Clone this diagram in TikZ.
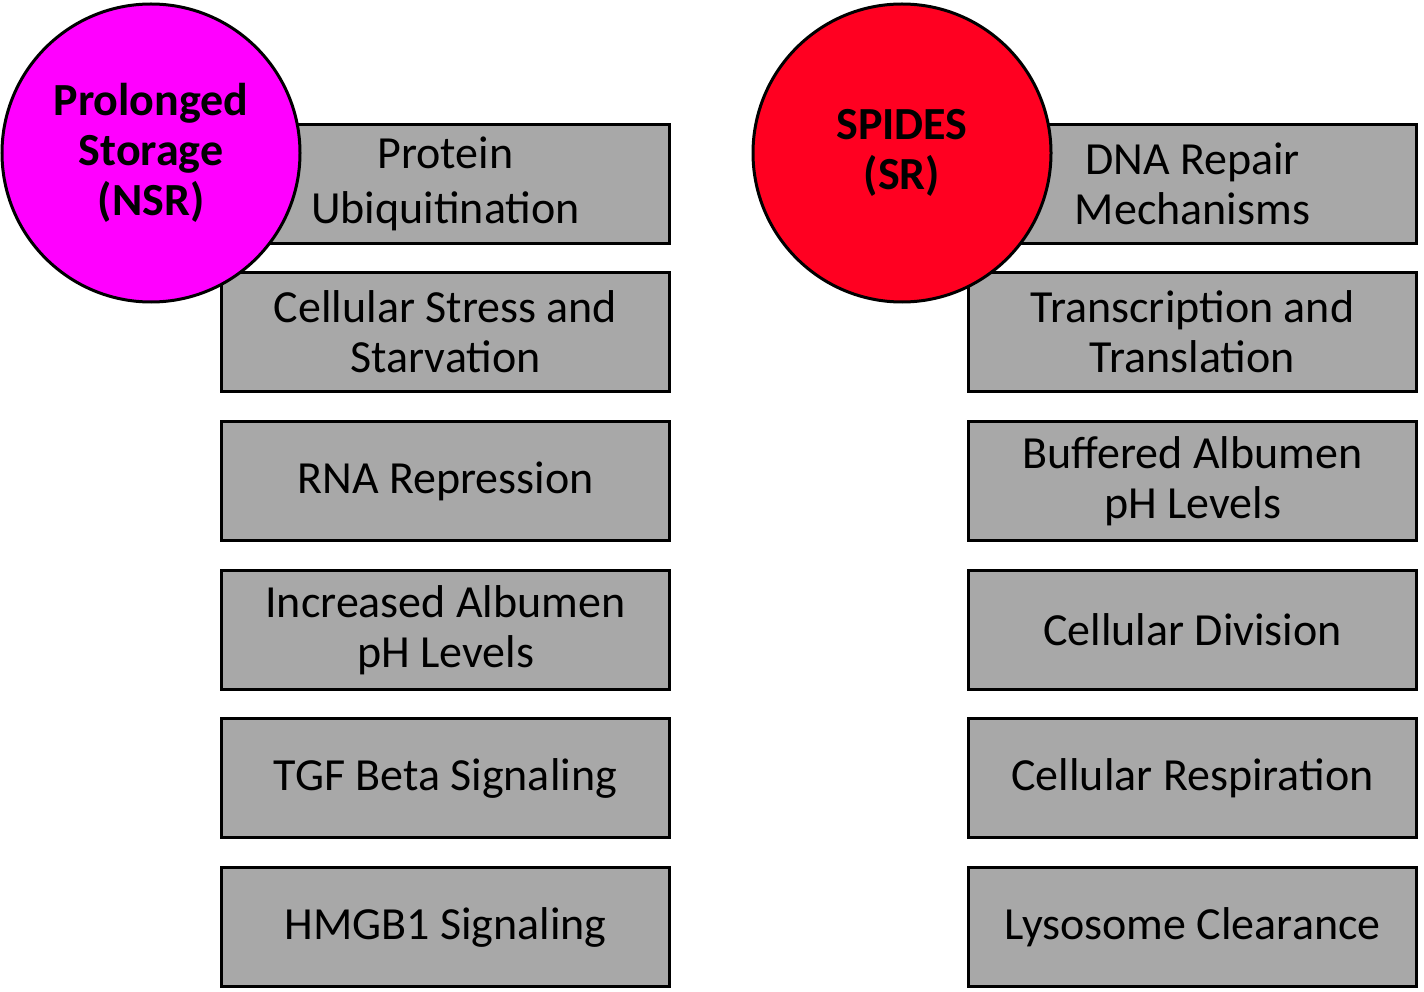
\documentclass[tikz,border=0pt]{standalone}
\usepackage{fontspec}
\setmainfont{Carlito}
\definecolor{boxgray}{RGB}{168,168,168}
\definecolor{nsrmag}{RGB}{255,0,255}
\definecolor{srred}{RGB}{255,0,33}
\begin{document}
\begin{tikzpicture}[x=1pt,y=-1pt,
  pbox/.style={draw=black,line width=3pt,fill=boxgray,minimum width=448pt,minimum height=119pt,
    inner sep=0pt,align=center,font=\fontsize{46}{50}\selectfont,anchor=north west},
  bigcirc/.style={circle,draw=black,line width=3pt,minimum size=298pt,inner sep=0pt,align=center,
    font=\bfseries\fontsize{46}{50}\selectfont}]
\useasboundingbox (0,0) rectangle (1424,992);
% left column
\node[pbox] (l1) at (220,123) {Protein\\[5pt]Ubiquitination};
\node[pbox] (l2) at (220,271) {Cellular Stress and\\Starvation};
\node[pbox] (l3) at (220,420) {RNA Repression};
\node[pbox] (l4) at (220,569) {Increased Albumen\\pH Levels};
\node[pbox] (l5) at (220,717) {TGF Beta Signaling};
\node[pbox] (l6) at (220,866) {HMGB1 Signaling};
% right column
\node[pbox] (r1) at (967,123) {DNA Repair\\Mechanisms};
\node[pbox] (r2) at (967,271) {Transcription and\\Translation};
\node[pbox] (r3) at (967,420) {Buffered Albumen\\pH Levels};
\node[pbox] (r4) at (967,569) {Cellular Division};
\node[pbox] (r5) at (967,717) {Cellular Respiration};
\node[pbox] (r6) at (967,866) {Lysosome Clearance};
% circles
\node[bigcirc,fill=nsrmag] (nsr) at (151,153) {Prolonged\\Storage\\(NSR)};
\node[bigcirc,fill=srred] (sr) at (902,153) {SPIDES\\(SR)};
\end{tikzpicture}
\end{document}
